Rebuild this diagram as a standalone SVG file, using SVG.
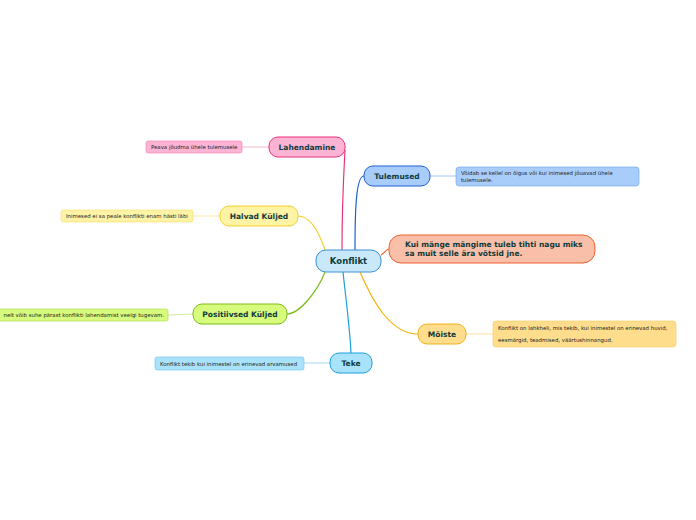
<svg xmlns="http://www.w3.org/2000/svg" width="696" height="520" viewBox="0 0 696 520">
<style>
.t{font-family:"DejaVu Sans",Verdana,sans-serif;font-weight:bold;font-size:7.5px;fill:#0e3a3a;text-anchor:middle}
.l{font-family:"DejaVu Sans",Verdana,sans-serif;font-size:5.4px;fill:#222}
.c{fill:none;stroke-width:1.2}
.lc{fill:none;stroke-width:0.8}
</style>
<rect width="696" height="520" fill="#fff"/>
<g id="connectors">
<path class="c" stroke="#e8337a" d="M342,250 C342,200 344,170 345,150"/>
<path class="c" stroke="#1e5fd0" d="M355,250 C355,210 356,176 364,176"/>
<path class="c" stroke="#f0602e" d="M381,255 C385,253 386,249 389,249"/>
<path class="c" stroke="#f2cf27" d="M325,250 C320,235 312,216 298,216"/>
<path class="c" stroke="#7cbb19" d="M325,272 C318,290 300,314 287,314"/>
<path class="c" stroke="#f5b400" d="M360,272 C372,300 390,334 418,334"/>
<path class="c" stroke="#1aa0dc" d="M343,272 C346,300 350,330 351,353"/>
<path class="lc" stroke="#f7a3c6" d="M242,147 L269,147"/>
<path class="lc" stroke="#8ab8f2" d="M430,176 L456,176"/>
<path class="lc" stroke="#f7e38a" d="M193,216 L220,216"/>
<path class="lc" stroke="#c6e58a" d="M168,315 L193,314"/>
<path class="lc" stroke="#f8d98a" d="M466,334 L493,334"/>
<path class="lc" stroke="#8fd3f2" d="M304,363 L330,363"/>
</g>
<g id="konflikt">
<rect x="316" y="250" width="65" height="22" rx="10" fill="#c9e9fb" stroke="#3a8fd6"/>
<text class="t" x="348.5" y="264" style="font-size:8.5px">Konflikt</text>
</g>
<g id="lahendamine">
<rect x="269" y="137" width="76" height="20" rx="9" fill="#fdb3d3" stroke="#e8337a"/>
<text class="t" x="307" y="150">Lahendamine</text>
</g>
<g id="lahendamine-leaf">
<rect x="146" y="141" width="96" height="12" rx="2" fill="#fdb3d3" stroke="#f37fb0" stroke-width="0.6"/>
<text class="l" x="151" y="149">Peava jõudma ühele tulemusele</text>
</g>
<g id="tulemused">
<rect x="364" y="166" width="66" height="20" rx="9" fill="#a9cdfb" stroke="#1e5fd0"/>
<text class="t" x="397" y="179">Tulemused</text>
</g>
<g id="tulemused-leaf">
<rect x="456" y="167" width="183" height="19" rx="3" fill="#a9cdfb" stroke="#6aa2ec" stroke-width="0.6"/>
<text class="l" x="461" y="175">Võidab se kellel on õigus või kui inimesed jõuavad ühele</text>
<text class="l" x="461" y="182">tulemusele.</text>
</g>
<g id="kui">
<rect x="389" y="235" width="206" height="28" rx="12" fill="#f9bfa9" stroke="#f0602e"/>
<text class="t" x="405" y="247" style="text-anchor:start">Kui mänge mängime tuleb tihti nagu miks</text>
<text class="t" x="405" y="256" style="text-anchor:start">sa muit selle ära võtsid jne.</text>
</g>
<g id="halvad">
<rect x="220" y="206" width="78" height="20" rx="9" fill="#fff3a5" stroke="#f2cf27"/>
<text class="t" x="259" y="219">Halvad Küljed</text>
</g>
<g id="halvad-leaf">
<rect x="61" y="210" width="132" height="12" rx="2" fill="#fff3a5" stroke="#f5dc6a" stroke-width="0.6"/>
<text class="l" x="66" y="218">Inimesed ei sa peale konflikti enam hästi läbi</text>
</g>
<g id="positiivsed">
<rect x="193" y="304" width="94" height="20" rx="9" fill="#d7fb7d" stroke="#7cbb19"/>
<text class="t" x="240" y="317">Positiivsed Küljed</text>
</g>
<g id="positiivsed-leaf">
<rect x="-6" y="309" width="174" height="12" rx="2" fill="#d7fb7d" stroke="#a8d84a" stroke-width="0.6"/>
<text class="l" x="164" y="317" style="text-anchor:end">nelt võib suhe pärast konflikti lahendamist veelgi tugevam.</text>
</g>
<g id="moiste">
<rect x="418" y="324" width="48" height="20" rx="9" fill="#fedd8c" stroke="#f2b01e"/>
<text class="t" x="442" y="337">Mõiste</text>
</g>
<g id="moiste-leaf">
<rect x="493" y="321" width="183" height="26" rx="3" fill="#fedd8c" stroke="#f5c95a" stroke-width="0.6"/>
<text class="l" x="498" y="330">Konflikt on lahkheli, mis tekib, kui inimestel on erinevad huvid,</text>
<text class="l" x="498" y="342">eesmärgid, teadmised, väärtushinnangud.</text>
</g>
<g id="teke">
<rect x="330" y="353" width="42" height="20" rx="9" fill="#a9e2fb" stroke="#1aa0dc"/>
<text class="t" x="351" y="366">Teke</text>
</g>
<g id="teke-leaf">
<rect x="155" y="357" width="149" height="13" rx="2" fill="#a9e2fb" stroke="#6cc3ea" stroke-width="0.6"/>
<text class="l" x="160" y="365.5">Konflikt tekib kui inimestel on erinevad arvamused</text>
</g>
</svg>
